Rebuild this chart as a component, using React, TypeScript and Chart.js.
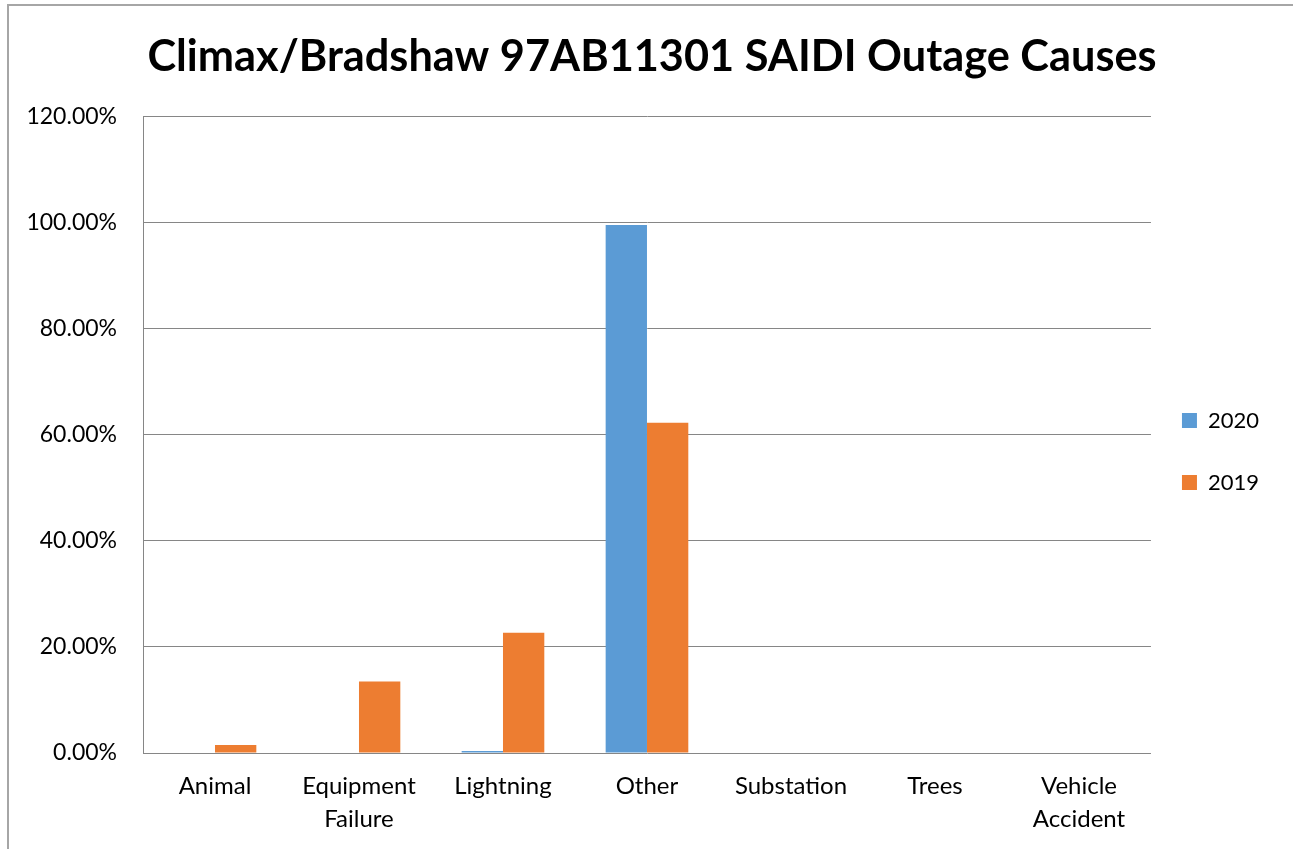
import React, { useEffect, useRef } from "react";
import { Chart, registerables } from "chart.js";

Chart.register(...registerables);

const TITLE = "Climax/Bradshaw 97AB11301 SAIDI Outage Causes";
const categories: (string | string[])[] = [
  "Animal",
  ["Equipment", "Failure"],
  "Lightning",
  "Other",
  "Substation",
  "Trees",
  ["Vehicle", "Accident"],
];
const seriesNames = ["2020", "2019"];
const values2020 = [0, 0, 0.4, 99.6, 0, 0, 0];
const values2019 = [1.5, 13.5, 22.7, 62.3, 0, 0, 0];
const yTicks = [0, 20, 40, 60, 80, 100, 120];

const FONT = "Lato, 'Open Sans', sans-serif";

const framePlugin = {
  id: "frame",
  beforeDraw(chart: any) {
    const { ctx, width, height } = chart;
    ctx.save();
    ctx.fillStyle = "#ffffff";
    ctx.fillRect(0, 0, width, height);
    ctx.strokeStyle = "#a6a6a6";
    ctx.lineWidth = 2;
    ctx.beginPath();
    ctx.moveTo(8, height);
    ctx.lineTo(8, 5);
    ctx.lineTo(width, 5);
    ctx.stroke();
    ctx.restore();
  },
};

// nudge the legend and title boxes to where the reference places them
const offsetPlugin = {
  id: "boxOffset",
  afterLayout(chart: any) {
    const lg = chart.legend;
    if (lg) {
      lg.left -= 9;
      lg.right -= 9;
      lg.top += 27;
      lg.bottom += 27;
    }
    const tb = chart.titleBlock;
    if (tb) {
      tb.left += 13;
      tb.right += 13;
    }
  },
};

export default function App() {
  const ref = useRef<HTMLCanvasElement | null>(null);
  useEffect(() => {
    if (!ref.current) return;
    const chart = new Chart(ref.current, {
      type: "bar",
      data: {
        labels: categories,
        datasets: [
          {
            label: seriesNames[0],
            data: values2020,
            backgroundColor: "#5B9BD5",
            categoryPercentage: 0.574,
            barPercentage: 1,
          },
          {
            label: seriesNames[1],
            data: values2019,
            backgroundColor: "#ED7D31",
            categoryPercentage: 0.574,
            barPercentage: 1,
          },
        ],
      },
      options: {
        responsive: false,
        animation: false,
        layout: { padding: { left: 0, right: 15, top: 0, bottom: 0 } },
        plugins: {
          title: {
            display: true,
            text: TITLE,
            color: "#000",
            font: { family: FONT, size: 43.3, weight: "bold", lineHeight: 1.2 },
            padding: { top: 31, bottom: 34 },
          },
          legend: {
            position: "right",
            labels: {
              color: "#000",
              font: { family: FONT, size: 22 },
              boxWidth: 15,
              boxHeight: 15,
              padding: 40,
            },
          },
          tooltip: { enabled: false },
        },
        scales: {
          x: {
            grid: { display: false, drawTicks: false },
            border: { display: false },
            ticks: {
              color: "#000",
              font: { family: FONT, size: 24, lineHeight: 1.375 },
              padding: 17,
              maxRotation: 0,
              autoSkip: false,
            },
            afterFit(scale: any) {
              scale.height = 96;
            },
          },
          y: {
            min: 0,
            max: 120,
            afterBuildTicks(scale: any) {
              scale.ticks = yTicks.map((v) => ({ value: v }));
            },
            grid: { color: "#868686", lineWidth: 1, drawTicks: false },
            border: { display: true, color: "#868686", width: 1 },
            ticks: {
              color: "#000",
              font: { family: FONT, size: 23 },
              padding: 26,
              callback: (v: any) => Number(v).toFixed(2) + "%",
            },
            afterFit(scale: any) {
              scale.width = 143;
            },
          },
        },
      },
      plugins: [framePlugin, offsetPlugin],
    });
    return () => chart.destroy();
  }, []);
  return (
    <div style={{ position: "absolute", left: 0, top: 0, width: 1293, height: 849 }}>
      <canvas ref={ref} width={1293} height={849} />
    </div>
  );
}
